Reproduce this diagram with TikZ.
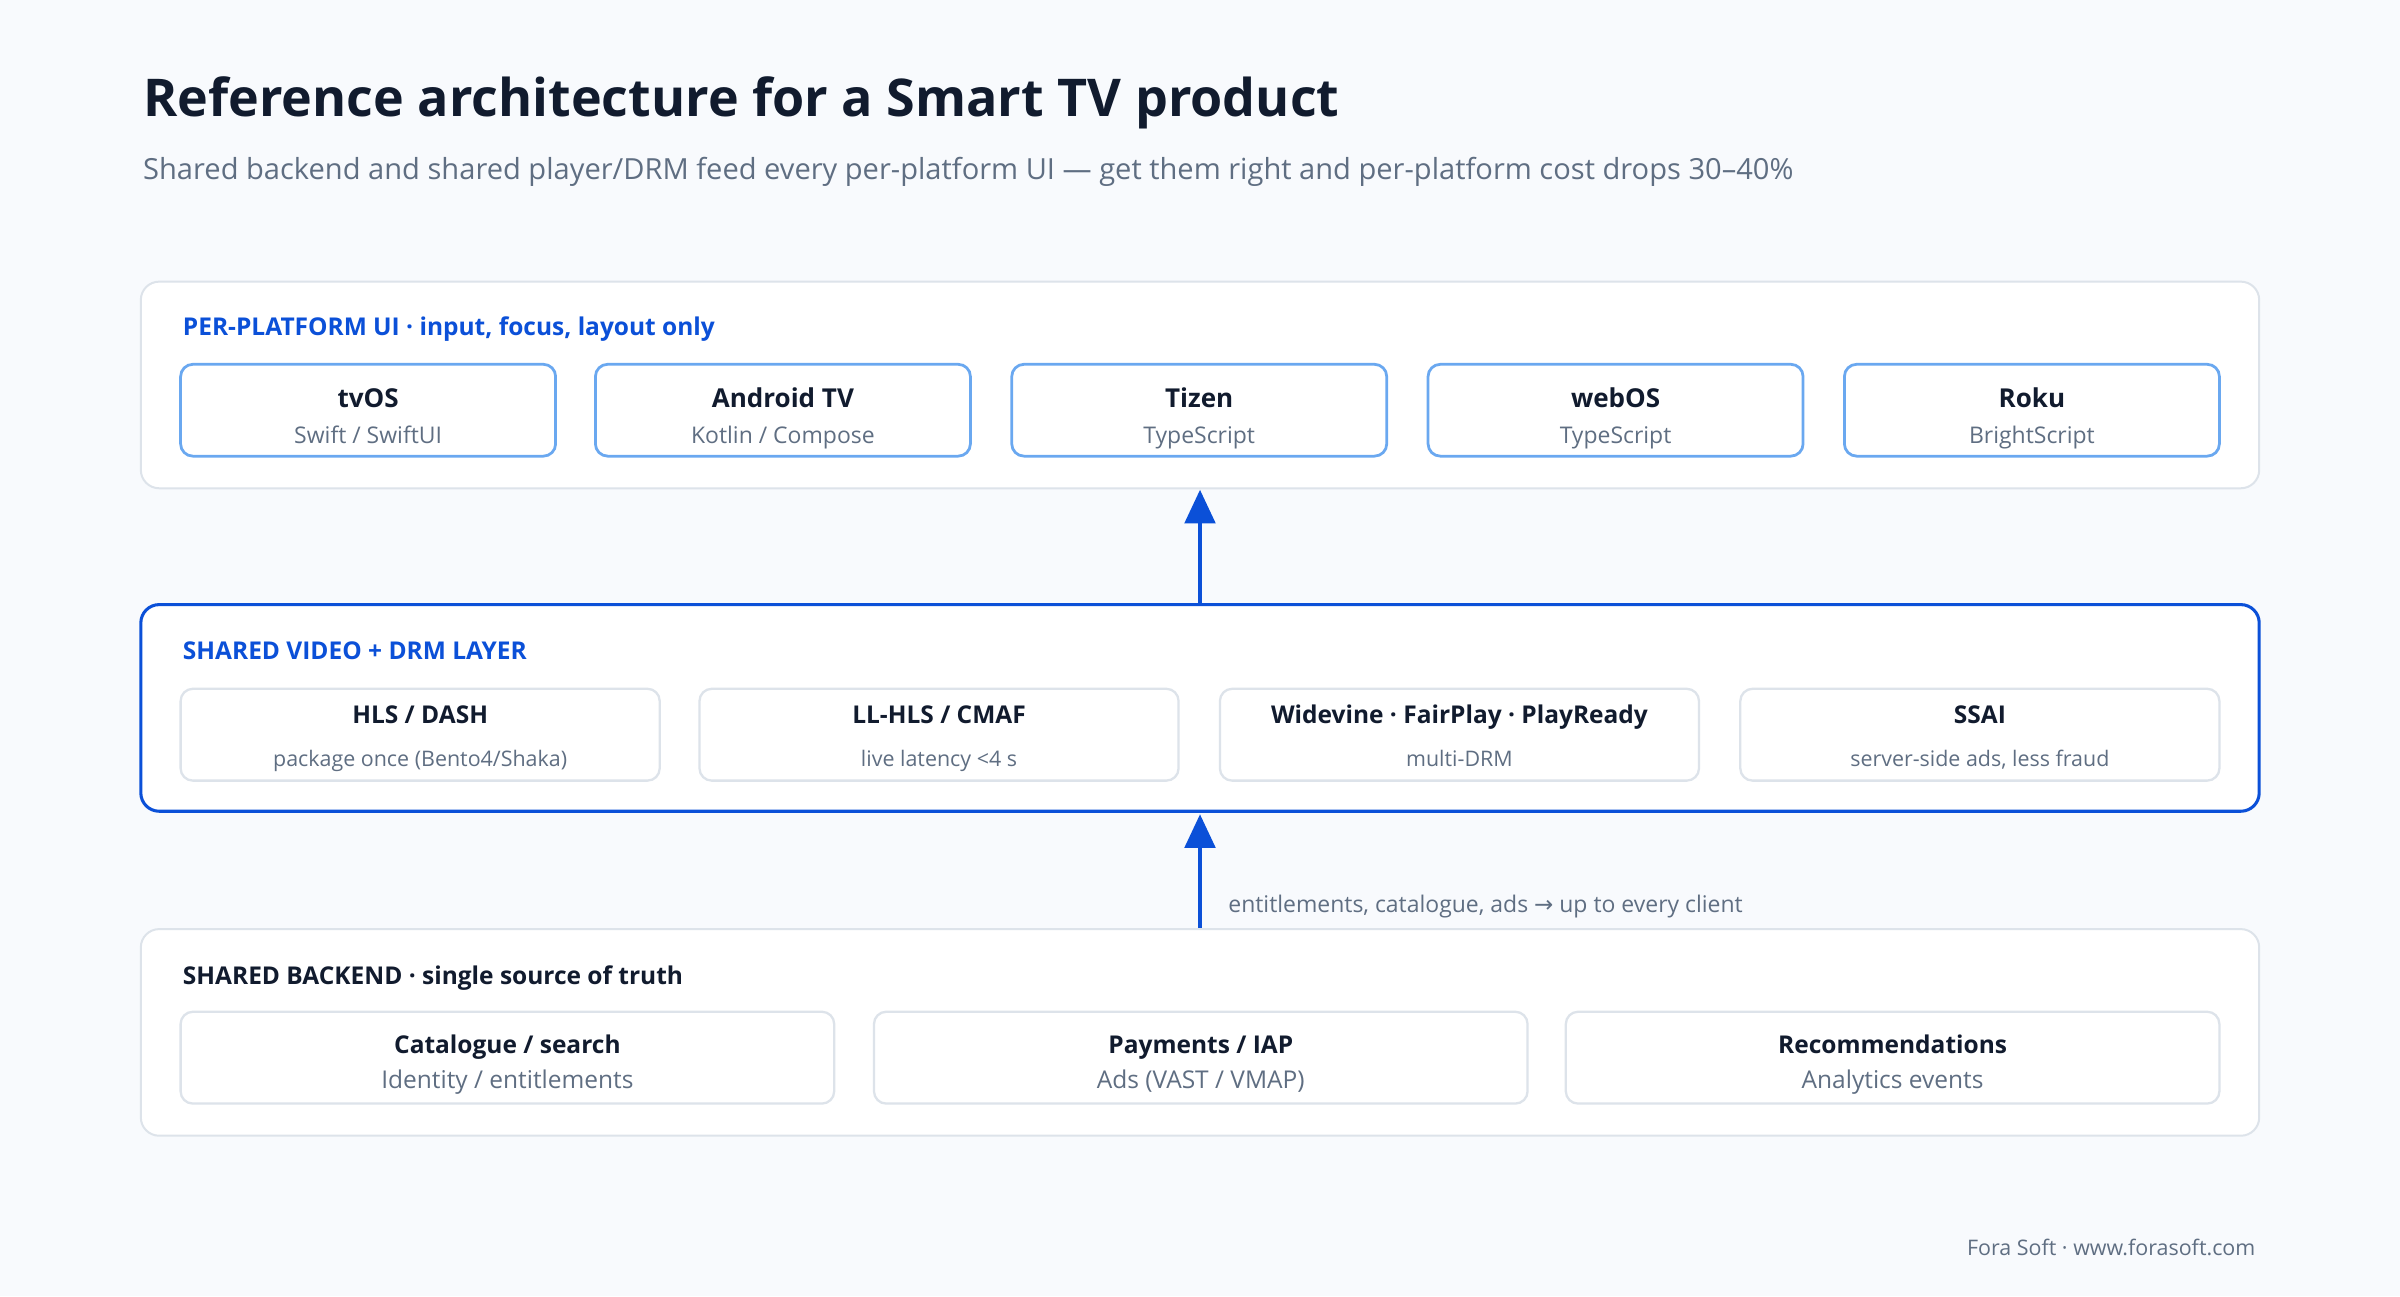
\documentclass[tikz,border=0pt]{standalone}
\usepackage{fontspec}
\setmainfont{Open Sans}
\newfontfamily\sym{DejaVu Sans}
\usetikzlibrary{arrows.meta}
\definecolor{bg}{HTML}{F8FAFD}
\definecolor{ink}{HTML}{111B2E}
\definecolor{mute}{HTML}{5F6E82}
\definecolor{blue}{HTML}{0B50D8}
\definecolor{lblue}{HTML}{6AA8F0}
\definecolor{line}{HTML}{DDE3EA}
\begin{document}
\begin{tikzpicture}[x=1pt,y=-1pt,
 panel/.style={draw=line,line width=1.3pt,fill=white,rounded corners=12pt},
 box/.style={draw=line,line width=1.5pt,fill=white,rounded corners=8pt},
 ubox/.style={draw=lblue,line width=1.8pt,fill=white,rounded corners=8pt},
 head/.style={anchor=base west,font=\fontsize{16}{18}\selectfont\bfseries},
 bt/.style={anchor=base,font=\fontsize{17}{20}\selectfont\bfseries,text=ink},
 bs/.style={anchor=base,font=\fontsize{15}{18}\selectfont,text=mute},
 arr/.style={blue,line width=2.4pt,-{Triangle[length=22pt,width=20pt]}}]
\fill[bg] (0,0) rectangle (1568,847);
\useasboundingbox (0,0) rectangle (1568,847);
\node[anchor=base west,font=\fontsize{34}{40}\selectfont\bfseries,text=ink] (title) at (90,76) {Reference architecture for a Smart TV product};
\node[anchor=base west,font=\fontsize{19}{22}\selectfont,text=mute] (sub) at (90,117) {Shared backend and shared player/DRM feed every per-platform UI — get them right and per-platform cost drops 30–40\%};
% panel 1
\path[panel] (92,184) rectangle (1476,319);
\node[head,text=blue] (h1) at (116,219) {PER-PLATFORM UI · input, focus, layout only};
\foreach \n/\a/\t/\s in {p1/118/tvOS/{Swift / SwiftUI}, p2/389/Android TV/{Kotlin / Compose}, p3/661/Tizen/TypeScript, p4/933/webOS/TypeScript, p5/1205/Roku/BrightScript}{
 \path[ubox] (\a,238) rectangle ++(245,60);
 \node[bt] (\n t) at (\a+122.5,266) {\t};
 \node[bs] (\n s) at (\a+122.5,290) {\s};
}
\coordinate (u) at (784,320);
% panel 2
\path[panel,draw=blue,line width=2pt] (92,395) rectangle (1476,530);
\node[head,text=blue] (h2) at (116,431) {SHARED VIDEO + DRM LAYER};
\foreach \n/\a/\t/\s in {v1/118/{HLS / DASH}/{package once (Bento4/Shaka)}, v2/457/{LL-HLS / CMAF}/{live latency <4 s}, v3/797/{Widevine · FairPlay · PlayReady}/multi-DRM, v4/1137/SSAI/{server-side ads, less fraud}}{
 \path[box] (\a,450) rectangle ++(313,60);
 \node[bt,font=\fontsize{16}{18}\selectfont\bfseries] (\n t) at (\a+156.5,473) {\t};
 \node[bs,font=\fontsize{14}{16}\selectfont] (\n s) at (\a+156.5,501) {\s};
}
\coordinate (v) at (784,394);
\coordinate (v2) at (784,532);
% panel 3
\path[panel] (92,607) rectangle (1476,742);
\node[head,text=ink] (h3) at (116,643) {SHARED BACKEND · single source of truth};
\foreach \n/\a/\t/\s in {b1/118/{Catalogue / search}/{Identity / entitlements}, b2/571/{Payments / IAP}/{Ads (VAST / VMAP)}, b3/1023/Recommendations/Analytics events}{
 \path[box] (\a,661) rectangle ++(427,60);
 \node[bt,font=\fontsize{16}{18}\selectfont\bfseries] (\n t) at (\a+213.5,688) {\t};
 \node[bs,font=\fontsize{16}{18}\selectfont] (\n s) at (\a+213.5,711) {\s};
}
\coordinate (w) at (784,606);
\draw[arr] (v) -- (u);
\draw[arr] (w) -- (v2);
\node[anchor=base west,font=\fontsize{15}{18}\selectfont,text=mute] (lab) at (799,596) {entitlements, catalogue, ads {\sym→} up to every client};
\node[anchor=base east,font=\fontsize{14}{16}\selectfont,text=mute] (foot) at (1477,820) {Fora Soft · www.forasoft.com};
\end{tikzpicture}
\end{document}
